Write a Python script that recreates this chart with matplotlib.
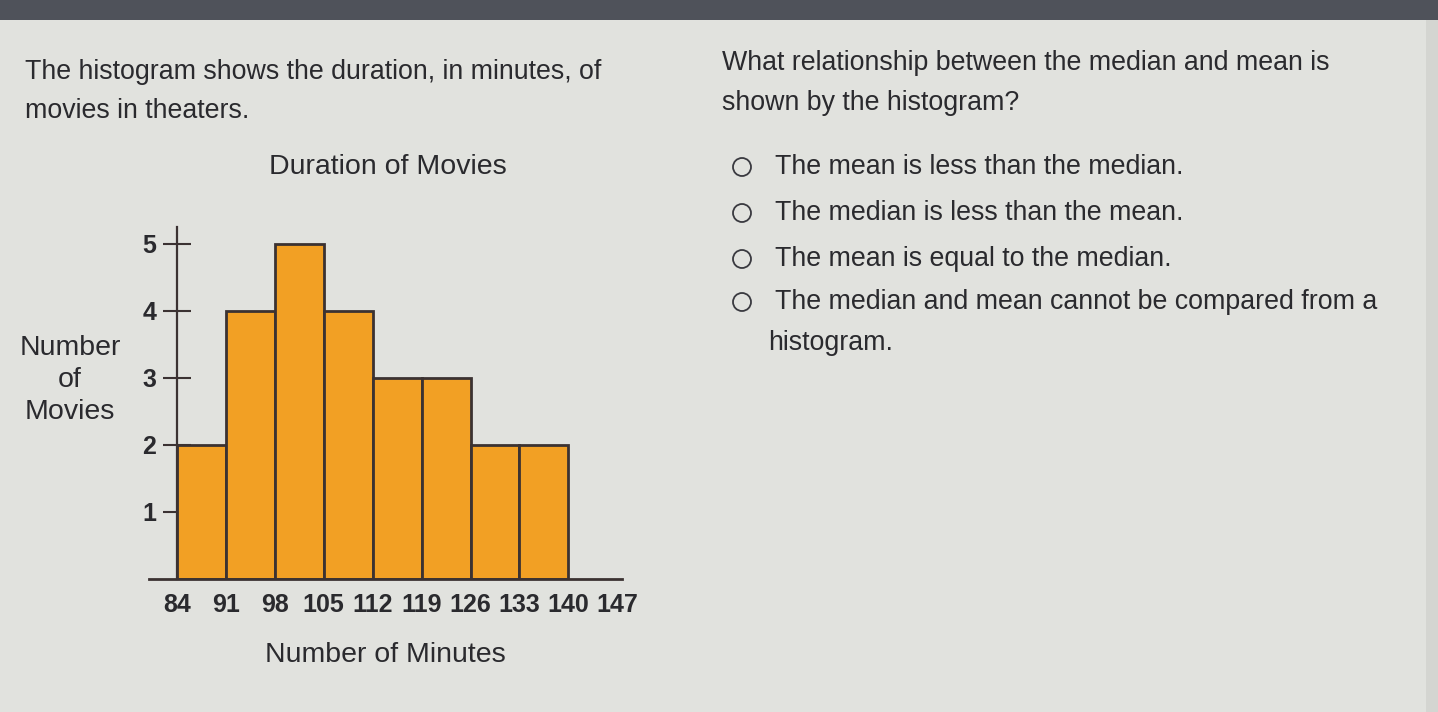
import matplotlib
matplotlib.use("Agg")
import matplotlib.pyplot as plt
import matplotlib.patches as mpatches
from matplotlib.transforms import IdentityTransform

# ---- data ----
bin_edges = [84, 91, 98, 105, 112, 119, 126, 133, 140, 147]
counts = [2, 4, 5, 4, 3, 3, 2, 2]
y_ticks = [1, 2, 3, 4, 5]
chart_title = "Duration of Movies"
x_label = "Number of Minutes"
y_label = "Number\nof\nMovies"
question_left = ["The histogram shows the duration, in minutes, of", "movies in theaters."]
question_right = ["What relationship between the median and mean is", "shown by the histogram?"]
options = ["The mean is less than the median.",
           "The median is less than the mean.",
           "The mean is equal to the median.",
           "The median and mean cannot be compared from a"]
option_cont = "histogram."

W, H = 1438, 712
plt.rcParams['font.family'] = ['Liberation Sans', 'DejaVu Sans']
fig = plt.figure(figsize=(W / 100, H / 100), dpi=100)
bg = "#e1e2de"
fig.patch.set_facecolor(bg)
txt = "#2a2a2e"

def fx(px):
    return px / W

def fy(py):
    return 1 - py / H

# top dark band of the screen
fig.add_artist(mpatches.Rectangle((0, fy(20)), 1, 20 / H, transform=fig.transFigure,
                                  facecolor="#4f525a", edgecolor="none", zorder=0))
# right border
fig.add_artist(mpatches.Rectangle((fx(1426), 0), 12 / W, fy(20), transform=fig.transFigure,
                                  facecolor="#d4d5d1", edgecolor="none", zorder=0))

# ---- histogram axes ----
ax = fig.add_axes([fx(149), fy(579), fx(621.5) - fx(149), fy(227) - fy(579)])
ax.set_facecolor("none")
n = len(counts)
lefts = bin_edges[:n]
widths = [bin_edges[i + 1] - bin_edges[i] for i in range(n)]
ax.bar(lefts, counts, width=widths, align="edge", color="#f2a024",
       edgecolor="#3b3232", linewidth=2.0, zorder=2)
ax.set_xlim(80, 147.6)
ax.set_ylim(0, 5.25)
for s in ["top", "right"]:
    ax.spines[s].set_visible(False)
ax.spines["left"].set_position(("data", bin_edges[0]))
ax.spines["left"].set_color("#3b3232")
ax.spines["left"].set_linewidth(1.6)
ax.spines["bottom"].set_color("#3b3232")
ax.spines["bottom"].set_linewidth(2.0)
ax.set_xticks(bin_edges)
ax.set_xticklabels([str(v) for v in bin_edges], fontsize=18, fontweight="bold", color=txt)
ax.tick_params(axis="x", length=0, pad=10)
ax.set_yticks(y_ticks)
ax.set_yticklabels([str(v) for v in y_ticks], fontsize=18, fontweight="bold", color=txt)
ax.tick_params(axis="y", direction="inout", length=20, width=1.5, color="#3b3232", pad=5)

fig.text(fx(388), fy(167), chart_title, fontsize=20.5, ha="center", va="center", color=txt)
fig.text(fx(385), fy(655), x_label, fontsize=20.5, ha="center", va="center", color=txt)
fig.text(fx(70), fy(380), y_label, fontsize=20.5, ha="center", va="center", color=txt,
         linespacing=1.32)

# ---- question text ----
fs = 19.3
fig.text(fx(25), fy(72), question_left[0], fontsize=fs, ha="left", va="center", color=txt)
fig.text(fx(25), fy(111), question_left[1], fontsize=fs, ha="left", va="center", color=txt)
fig.text(fx(722), fy(63), question_right[0], fontsize=fs, ha="left", va="center", color=txt)
fig.text(fx(722), fy(103), question_right[1], fontsize=fs, ha="left", va="center", color=txt)

opt_y = [167, 213, 259, 302]
for oy, o in zip(opt_y, options):
    fig.add_artist(mpatches.Circle((742, H - oy), 9, transform=IdentityTransform(),
                                   facecolor="none", edgecolor="#3a3a40", linewidth=1.3))
    fig.text(fx(775), fy(oy), o, fontsize=fs, ha="left", va="center", color=txt)
fig.text(fx(768), fy(343), option_cont, fontsize=fs, ha="left", va="center", color=txt)

fig.savefig("out.png", dpi=100, facecolor=fig.get_facecolor())
